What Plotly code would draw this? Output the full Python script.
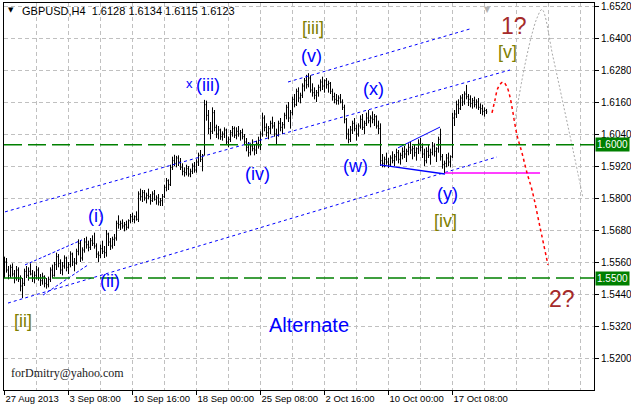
import plotly.graph_objects as go

# ---------------- data (GBPUSD H4 bars) ----------------
first_open = 1.5540
bar_high = [
    1.5580, 1.5575, 1.5545, 1.5550, 1.5555, 1.5530, 1.5545, 1.5540, 1.5510, 1.5500,
    1.5535, 1.5545, 1.5540, 1.5555, 1.5530, 1.5525, 1.5545, 1.5540, 1.5515, 1.5520,
    1.5510, 1.5500, 1.5505, 1.5540, 1.5550, 1.5560, 1.5595, 1.5590, 1.5570, 1.5560,
    1.5585, 1.5580, 1.5560, 1.5600, 1.5595, 1.5575, 1.5610, 1.5645, 1.5640, 1.5615,
    1.5650, 1.5655, 1.5640, 1.5650, 1.5660, 1.5670, 1.5630, 1.5600, 1.5625, 1.5640,
    1.5620, 1.5680, 1.5670, 1.5650, 1.5655, 1.5665, 1.5715, 1.5735, 1.5715, 1.5720,
    1.5710, 1.5715, 1.5720, 1.5740, 1.5745, 1.5735, 1.5750, 1.5825, 1.5835, 1.5830,
    1.5830, 1.5820, 1.5835, 1.5815, 1.5825, 1.5830, 1.5810, 1.5815, 1.5800, 1.5815,
    1.5850, 1.5875, 1.5870, 1.5925, 1.5955, 1.5962, 1.5958, 1.5960, 1.5950, 1.5930,
    1.5915, 1.5925, 1.5920, 1.5910, 1.5930, 1.5935, 1.5945, 1.5970, 1.5980, 1.5965,
    1.6168, 1.6165, 1.6130, 1.6085, 1.6140, 1.6130, 1.6075, 1.6070, 1.6060, 1.6050,
    1.6065, 1.6060, 1.6030, 1.6055, 1.6070, 1.6068, 1.6065, 1.6070, 1.6055, 1.6060,
    1.6040, 1.6025, 1.6010, 1.6005, 1.6020, 1.6000, 1.6015, 1.6030, 1.6050, 1.6120,
    1.6110, 1.6080, 1.6070, 1.6090, 1.6105, 1.6085, 1.6060, 1.6090, 1.6100, 1.6085,
    1.6120, 1.6150, 1.6160, 1.6130, 1.6180, 1.6190, 1.6210, 1.6215, 1.6195, 1.6230,
    1.6250, 1.6262, 1.6268, 1.6260, 1.6230, 1.6215, 1.6205, 1.6225, 1.6245, 1.6255,
    1.6245, 1.6250, 1.6240, 1.6235, 1.6210, 1.6195, 1.6190, 1.6185, 1.6190, 1.6170,
    1.6150, 1.6100, 1.6060, 1.6070, 1.6090, 1.6100, 1.6075, 1.6080, 1.6110, 1.6115,
    1.6090, 1.6120, 1.6130, 1.6110, 1.6125, 1.6115, 1.6110, 1.6090, 1.6080, 1.5965,
    1.5955, 1.5970, 1.5950, 1.5960, 1.5975, 1.5965, 1.5985, 1.5980, 1.5970, 1.5990,
    1.5995, 1.5985, 1.6005, 1.6010, 1.5995, 1.6000, 1.5990, 1.6020, 1.6025, 1.6005,
    1.5985, 1.5990, 1.6000, 1.5985, 1.6010, 1.6005, 1.5990, 1.6030, 1.6060, 1.5965,
    1.5940, 1.5965, 1.5970, 1.5960, 1.6120, 1.6130, 1.6165, 1.6170, 1.6185, 1.6190,
    1.6200, 1.6224, 1.6190, 1.6185, 1.6175, 1.6180, 1.6170, 1.6175, 1.6155, 1.6150,
    1.6140, 1.6134,
]
bar_low = [
    1.5500, 1.5520, 1.5495, 1.5500, 1.5505, 1.5480, 1.5490, 1.5485, 1.5450, 1.5425,
    1.5470, 1.5500, 1.5490, 1.5510, 1.5485, 1.5480, 1.5495, 1.5490, 1.5470, 1.5475,
    1.5465, 1.5460, 1.5465, 1.5485, 1.5500, 1.5505, 1.5530, 1.5540, 1.5515, 1.5510,
    1.5535, 1.5525, 1.5515, 1.5540, 1.5545, 1.5525, 1.5550, 1.5585, 1.5560, 1.5565,
    1.5595, 1.5610, 1.5600, 1.5605, 1.5620, 1.5610, 1.5575, 1.5560, 1.5575, 1.5590,
    1.5575, 1.5580, 1.5620, 1.5605, 1.5610, 1.5620, 1.5640, 1.5685, 1.5680, 1.5685,
    1.5675, 1.5680, 1.5685, 1.5705, 1.5710, 1.5705, 1.5715, 1.5710, 1.5790, 1.5785,
    1.5790, 1.5780, 1.5795, 1.5775, 1.5785, 1.5790, 1.5775, 1.5772, 1.5770, 1.5770,
    1.5800, 1.5825, 1.5830, 1.5845, 1.5905, 1.5920, 1.5915, 1.5920, 1.5905, 1.5885,
    1.5880, 1.5885, 1.5880, 1.5878, 1.5890, 1.5895, 1.5895, 1.5920, 1.5935, 1.5900,
    1.5960, 1.6090, 1.6040, 1.6020, 1.6040, 1.6050, 1.6025, 1.6020, 1.6018, 1.6015,
    1.6025, 1.6000, 1.5990, 1.6010, 1.6030, 1.6025, 1.6020, 1.6030, 1.6015, 1.6020,
    1.6000, 1.5975, 1.5955, 1.5960, 1.5975, 1.5960, 1.5965, 1.5985, 1.5980, 1.6030,
    1.6050, 1.6030, 1.6020, 1.6040, 1.6060, 1.6030, 1.6000, 1.6030, 1.6050, 1.6040,
    1.6060, 1.6095, 1.6085, 1.6060, 1.6110, 1.6140, 1.6145, 1.6160, 1.6155, 1.6175,
    1.6200, 1.6210, 1.6215, 1.6195, 1.6180, 1.6170, 1.6160, 1.6180, 1.6200, 1.6205,
    1.6195, 1.6210, 1.6195, 1.6190, 1.6165, 1.6155, 1.6150, 1.6150, 1.6155, 1.6130,
    1.6080, 1.6020, 1.6005, 1.6010, 1.6040, 1.6050, 1.6015, 1.6030, 1.6060, 1.6055,
    1.6040, 1.6070, 1.6080, 1.6065, 1.6080, 1.6070, 1.6060, 1.6040, 1.5920, 1.5915,
    1.5915, 1.5925, 1.5912, 1.5918, 1.5930, 1.5920, 1.5940, 1.5930, 1.5925, 1.5945,
    1.5950, 1.5935, 1.5960, 1.5965, 1.5945, 1.5955, 1.5940, 1.5965, 1.5975, 1.5950,
    1.5920, 1.5930, 1.5950, 1.5925, 1.5960, 1.5955, 1.5935, 1.5970, 1.5940, 1.5910,
    1.5894, 1.5915, 1.5920, 1.5915, 1.5950, 1.6070, 1.6100, 1.6115, 1.6130, 1.6145,
    1.6150, 1.6170, 1.6145, 1.6140, 1.6135, 1.6140, 1.6135, 1.6130, 1.6115, 1.6110,
    1.6105, 1.6115,
]
bar_close = [
    1.5560, 1.5530, 1.5510, 1.5540, 1.5515, 1.5500, 1.5530, 1.5495, 1.5470, 1.5480,
    1.5525, 1.5510, 1.5525, 1.5515, 1.5500, 1.5510, 1.5530, 1.5500, 1.5490, 1.5505,
    1.5480, 1.5475, 1.5495, 1.5530, 1.5510, 1.5550, 1.5580, 1.5555, 1.5530, 1.5545,
    1.5575, 1.5540, 1.5550, 1.5590, 1.5560, 1.5555, 1.5600, 1.5630, 1.5575, 1.5605,
    1.5635, 1.5625, 1.5615, 1.5640, 1.5630, 1.5620, 1.5590, 1.5585, 1.5610, 1.5600,
    1.5595, 1.5665, 1.5635, 1.5620, 1.5645, 1.5650, 1.5705, 1.5700, 1.5705, 1.5695,
    1.5700, 1.5690, 1.5715, 1.5730, 1.5720, 1.5730, 1.5720, 1.5815, 1.5805, 1.5820,
    1.5800, 1.5810, 1.5805, 1.5790, 1.5815, 1.5795, 1.5800, 1.5785, 1.5790, 1.5805,
    1.5840, 1.5865, 1.5850, 1.5915, 1.5940, 1.5930, 1.5950, 1.5935, 1.5915, 1.5900,
    1.5895, 1.5910, 1.5890, 1.5900, 1.5920, 1.5905, 1.5935, 1.5960, 1.5945, 1.5960,
    1.6150, 1.6110, 1.6060, 1.6050, 1.6120, 1.6065, 1.6040, 1.6055, 1.6030, 1.6040,
    1.6055, 1.6010, 1.6020, 1.6045, 1.6060, 1.6035, 1.6050, 1.6040, 1.6045, 1.6030,
    1.6010, 1.5990, 1.5970, 1.5995, 1.5985, 1.5980, 1.6005, 1.5995, 1.6040, 1.6100,
    1.6065, 1.6045, 1.6060, 1.6080, 1.6070, 1.6040, 1.6035, 1.6080, 1.6065, 1.6075,
    1.6110, 1.6140, 1.6100, 1.6120, 1.6170, 1.6150, 1.6200, 1.6175, 1.6185, 1.6220,
    1.6240, 1.6225, 1.6250, 1.6205, 1.6195, 1.6185, 1.6195, 1.6215, 1.6235, 1.6220,
    1.6240, 1.6225, 1.6230, 1.6200, 1.6180, 1.6170, 1.6165, 1.6175, 1.6160, 1.6140,
    1.6095, 1.6040, 1.6020, 1.6055, 1.6080, 1.6060, 1.6040, 1.6070, 1.6095, 1.6065,
    1.6080, 1.6100, 1.6090, 1.6100, 1.6095, 1.6105, 1.6070, 1.6060, 1.5940, 1.5930,
    1.5945, 1.5935, 1.5925, 1.5950, 1.5940, 1.5955, 1.5970, 1.5945, 1.5960, 1.5975,
    1.5965, 1.5975, 1.5990, 1.5980, 1.5985, 1.5970, 1.5985, 1.6005, 1.5990, 1.5965,
    1.5940, 1.5975, 1.5960, 1.5970, 1.5995, 1.5975, 1.5985, 1.6020, 1.5955, 1.5925,
    1.5930, 1.5950, 1.5935, 1.5955, 1.6100, 1.6115, 1.6150, 1.6135, 1.6175, 1.6160,
    1.6190, 1.6180, 1.6170, 1.6155, 1.6165, 1.6150, 1.6160, 1.6140, 1.6135, 1.6125,
    1.6128, 1.6123,
]
bar_open = [first_open] + bar_close[:-1]
bar_index = list(range(len(bar_close)))

time_tick_index = [0, 32, 64, 96, 128, 160, 192, 224]
time_tick_text = ["27 Aug 2013", "3 Sep 08:00", "10 Sep 16:00", "18 Sep 00:00",
                  "25 Sep 08:00", "2 Oct 16:00", "10 Oct 00:00", "17 Oct 08:00"]
price_ticks = [1.5200, 1.5320, 1.5440, 1.5560, 1.5680, 1.5800,
               1.5920, 1.6040, 1.6160, 1.6280, 1.6400, 1.6520]
level_prices = [1.6000, 1.5500]

# trend / channel lines (bar index, price)
channel_a_x = [0.25, 252.75]
channel_a_y = [1.5748, 1.6280]
channel_b_x = [141.75, 232.75]
channel_b_y = [1.6235, 1.6434]
channel_c_x = [1.75, 246.25]
channel_c_y = [1.5406, 1.5954]
wedge1_up_x = [10.25, 38.75]
wedge1_up_y = [1.5549, 1.5643]
wedge1_lo_x = [19.25, 41.75]
wedge1_lo_y = [1.5436, 1.5549]
wedge2_up_x = [196.75, 217.75]
wedge2_up_y = [1.5988, 1.6066]
wedge2_lo_x = [187.75, 220.25]
wedge2_lo_y = [1.5924, 1.5890]
support_x = [220.25, 267.75]
support_y = [1.5894, 1.5894]

# forecast paths
red_path_x = [243.75, 245.25, 246.75, 249.25, 251.25, 252.75, 254.25, 256.25,
              258.75, 261.25, 263.75, 267.75, 271.75]
red_path_y = [1.6119, 1.6168, 1.6213, 1.6235, 1.6216, 1.6179, 1.6119, 1.6036,
              1.5969, 1.5894, 1.5830, 1.5691, 1.5549]
gray_path_x = [255.25, 258.75, 261.25, 263.75, 266.25, 268.75, 274.25, 279.25, 284.25, 289.25]
gray_path_y = [1.6093, 1.6243, 1.6336, 1.6415, 1.6475, 1.6507, 1.6329, 1.6156, 1.5980, 1.5800]

# ---------------- figure ----------------
fig = go.Figure()

fig.add_trace(go.Ohlc(
    x=bar_index, open=bar_open, high=bar_high, low=bar_low, close=bar_close,
    increasing=dict(line=dict(color="black", width=1)),
    decreasing=dict(line=dict(color="black", width=1)),
    tickwidth=0.4, hoverinfo="skip", showlegend=False,
))

BLUE = "#0000ff"


def add_line(xs, ys, color, dash, width=1, shape="linear"):
    fig.add_trace(go.Scatter(x=xs, y=ys, mode="lines",
                             line=dict(color=color, dash=dash, width=width, shape=shape),
                             hoverinfo="skip", showlegend=False))


add_line(channel_a_x, channel_a_y, BLUE, "3px,3px")
add_line(channel_b_x, channel_b_y, BLUE, "3px,3px")
add_line(channel_c_x, channel_c_y, BLUE, "3px,3px")
add_line(wedge1_up_x, wedge1_up_y, BLUE, "3px,2px")
add_line(wedge1_lo_x, wedge1_lo_y, BLUE, "3px,2px")
add_line(wedge2_up_x, wedge2_up_y, BLUE, "solid", 1)
add_line(wedge2_lo_x, wedge2_lo_y, BLUE, "solid", 1.3)
add_line(support_x, support_y, "#ff00ff", "solid", 1.5)
add_line(red_path_x, red_path_y, "#ff0000", "3px,3px", 1.5, "spline")
add_line(gray_path_x, gray_path_y, "#a8a8a8", "2px,2px", 1, "spline")

shapes = []
for lv in level_prices:
    shapes.append(dict(type="line", xref="paper", x0=0, x1=1, yref="y", y0=lv, y1=lv,
                       line=dict(color="#008000", width=1.5, dash="18px,6px")))

annotations = []


def label(text, x, y, color, size, family="Liberation Sans"):
    annotations.append(dict(text=text, x=x, y=y, xref="x", yref="y", showarrow=False,
                            xanchor="center", yanchor="middle",
                            font=dict(color=color, size=size, family=family)))


OLIVE = "#808000"
BROWN = "#a52a2a"
label("x", 92.25, 1.6228, BLUE, 13)
label("(iii)", 101.75, 1.6224, BLUE, 18)
label("[iii]", 154.25, 1.6438, OLIVE, 18)
label("(v)", 153.25, 1.6333, BLUE, 18)
label("(x)", 184.25, 1.6209, BLUE, 18)
label("(i)", 45.75, 1.5733, BLUE, 18)
label("(ii)", 52.75, 1.5489, BLUE, 18)
label("(iv)", 126.25, 1.5890, BLUE, 18)
label("(w)", 175.25, 1.5920, BLUE, 18)
label("(y)", 221.25, 1.5815, BLUE, 18)
label("[iv]", 220.25, 1.5714, OLIVE, 18)
label("[ii]", 9.25, 1.5339, OLIVE, 18)
label("[v]", 251.25, 1.6348, OLIVE, 18)
label("1?", 254.75, 1.6445, BROWN, 23)
label("2?", 278.75, 1.5421, BROWN, 23)
label("Alternate", 152.25, 1.5324, BLUE, 20)
label("forDmitry@yahoo.com", 31.25, 1.5144, "#1a1a1a", 12, "Liberation Serif")

annotations.append(dict(text="GBPUSD,H4  1.6128 1.6134 1.6115 1.6123", xref="paper", yref="paper",
                        x=0.0271, y=0.979, xanchor="left", yanchor="middle", showarrow=False,
                        font=dict(color="black", size=11, family="Liberation Sans")))
annotations.append(dict(text="▼", xref="paper", yref="paper", x=0.0119, y=0.981,
                        xanchor="center", yanchor="middle", showarrow=False,
                        font=dict(color="black", size=7, family="DejaVu Sans")))
annotations.append(dict(text="▼", xref="x", yref="paper", x=241.25, y=1.0,
                        xanchor="center", yanchor="top", showarrow=False,
                        font=dict(color="#b0b0b0", size=8, family="DejaVu Sans")))
for lv in level_prices:
    annotations.append(dict(text=f"{lv:.4f}", xref="paper", yref="y", x=1, y=lv,
                            xanchor="left", yanchor="middle", xshift=1, showarrow=False,
                            bgcolor="#008000", borderpad=1,
                            font=dict(color="white", size=10, family="Liberation Sans")))

GRID = "#c0c0c0"
fig.update_layout(
    width=631, height=407,
    margin=dict(l=4, r=37, t=3, b=17, autoexpand=False),
    paper_bgcolor="white", plot_bgcolor="white",
    showlegend=False,
    shapes=shapes, annotations=annotations,
    xaxis=dict(
        range=[-0.25, 294.75], tickmode="array", tickvals=time_tick_index, ticktext=time_tick_text,
        ticks="outside", ticklen=4, tickcolor="black", ticklabelposition="outside right",
        tickangle=0,
        tickfont=dict(family="Liberation Sans", size=9.5, color="black"),
        showline=True, linecolor="black", linewidth=1, mirror=True,
        showgrid=True, gridcolor=GRID, griddash="4px,3px", gridwidth=1,
        minor=dict(tickmode="linear", tick0=0, dtick=16, showgrid=True, gridcolor=GRID,
                   griddash="4px,3px", gridwidth=1, ticks=""),
        zeroline=False, rangeslider=dict(visible=False), fixedrange=True,
    ),
    yaxis=dict(
        side="right", range=[1.5080, 1.653125], tickmode="array", tickvals=price_ticks,
        tickformat=".4f", ticks="outside", ticklen=4, tickcolor="black",
        tickfont=dict(family="Liberation Sans", size=10, color="black"),
        showline=True, linecolor="black", linewidth=1, mirror=True,
        showgrid=True, gridcolor=GRID, griddash="4px,3px", gridwidth=1,
        zeroline=False, fixedrange=True,
    ),
)

fig.write_html("out.html", config={"displayModeBar": False},
               post_script="document.body.style.margin='0';document.body.style.padding='0';")
